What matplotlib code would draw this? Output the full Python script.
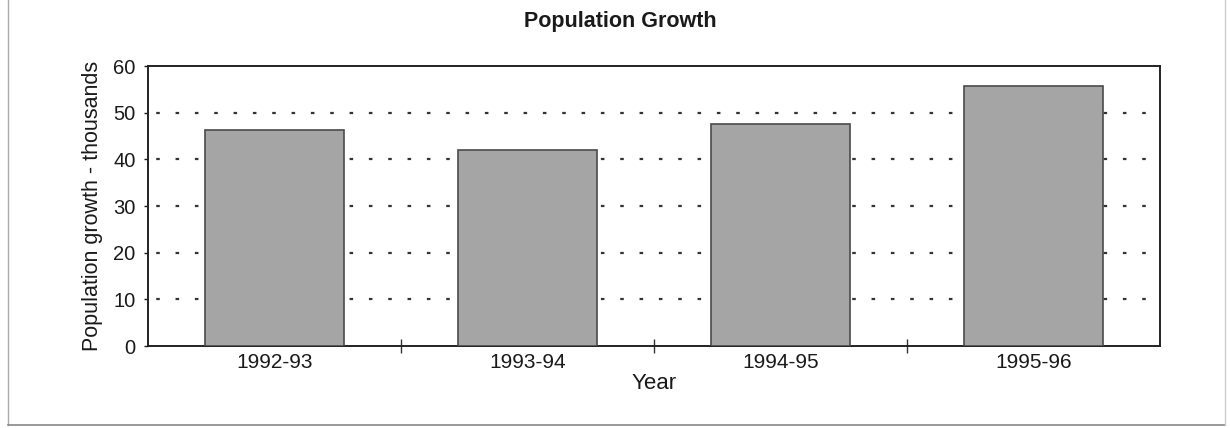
import numpy as np
import matplotlib
matplotlib.use('Agg')
from matplotlib import pyplot as plt
from matplotlib.lines import Line2D

# data
years = ['1992-93', '1993-94', '1994-95', '1995-96']
growth = [46.3, 42.0, 47.6, 55.7]
yticks = [0, 10, 20, 30, 40, 50, 60]

plt.rcParams['font.family'] = ['Liberation Sans', 'DejaVu Sans']

fig = plt.figure(figsize=(12.3, 4.28), dpi=100)
ax = fig.add_axes([148/1230, 1 - 346/428, (1160 - 148)/1230, (346 - 66)/428])

x = np.arange(len(years))
ax.bar(x, growth, width=0.553, color='#a5a5a5', edgecolor='#4a4a4a',
       linewidth=1.2, zorder=3)

# dotted gridlines behind the bars
for v in yticks[1:-1]:
    ax.axhline(v, color='#333333', linewidth=1.6, linestyle=(5, (1.6, 7.1)), zorder=1)

ax.set_xlim(-0.5, 3.5)
ax.set_ylim(0, 60)
ax.set_yticks(yticks)
ax.set_xticks(x)
ax.set_xticklabels(years)
ax.set_xticks([0.5, 1.5, 2.5], minor=True)
ax.tick_params(axis='x', which='major', length=0, labelsize=15, pad=5, colors='#1a1a1a')
ax.tick_params(axis='x', which='minor', length=10, direction='inout', width=1, color='#333333')
ax.tick_params(axis='y', length=3, width=1, labelsize=14.5, pad=6, colors='#1a1a1a')
for s in ax.spines.values():
    s.set_linewidth(1.4)
    s.set_color('#222222')

ax.set_ylabel('Population growth - thousands', fontsize=15.5, color='#1a1a1a', labelpad=7)
ax.set_xlabel('Year', fontsize=16, color='#1a1a1a', labelpad=1)
fig.text(620/1230, 1 - 22/428, 'Population Growth', ha='center', va='center',
         fontsize=15.5, fontweight='bold', color='#1a1a1a')

# outer frame of the scanned page
fig.add_artist(Line2D([8/1230, 8/1230], [3/428, 1], transform=fig.transFigure,
                      color='#aaaaaa', linewidth=1))
fig.add_artist(Line2D([8/1230, 1225/1230], [3/428, 3/428], transform=fig.transFigure,
                      color='#888888', linewidth=1.2))
fig.add_artist(Line2D([1225/1230, 1225/1230], [3/428, 1], transform=fig.transFigure,
                      color='#cccccc', linewidth=1))

fig.savefig('out.png', dpi=100)
